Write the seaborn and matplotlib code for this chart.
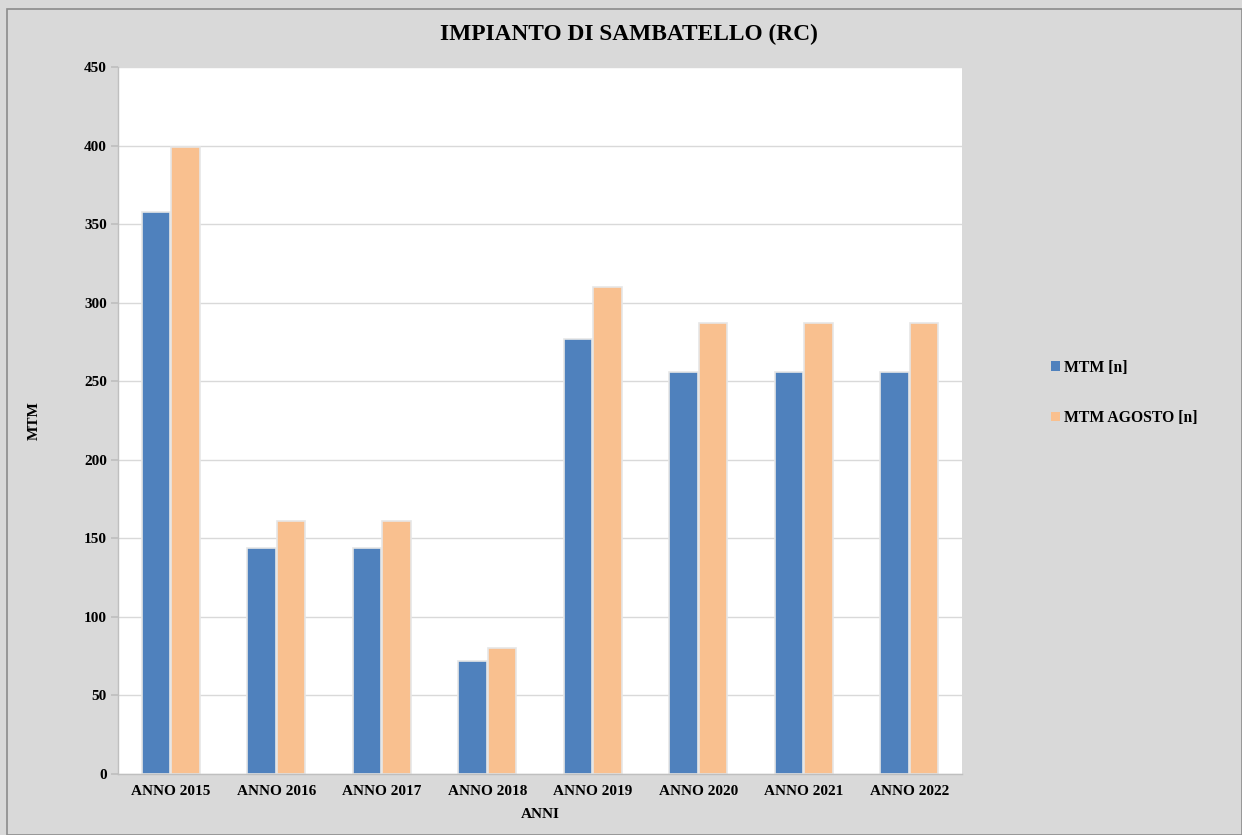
import matplotlib
matplotlib.use("Agg")
import matplotlib.pyplot as plt
import seaborn as sns
import pandas as pd
from matplotlib.patches import Rectangle, Patch

categories = ["ANNO 2015", "ANNO 2016", "ANNO 2017", "ANNO 2018",
              "ANNO 2019", "ANNO 2020", "ANNO 2021", "ANNO 2022"]
mtm = [358, 144, 144, 72, 277, 256, 256, 256]
mtm_agosto = [399, 161, 161, 80, 310, 287, 287, 287]
series_names = ["MTM [n]", "MTM AGOSTO [n]"]
colors = ["#4f81bd", "#f9c08f"]

df = pd.DataFrame({
    "cat": categories * 2,
    "val": mtm + mtm_agosto,
    "serie": [series_names[0]] * len(categories) + [series_names[1]] * len(categories),
})

sns.set_theme(style="white")
plt.rcParams["font.family"] = ["Liberation Serif", "DejaVu Serif"]
plt.rcParams["font.weight"] = "bold"
plt.rcParams["text.color"] = "black"
plt.rcParams["xtick.color"] = "black"
plt.rcParams["ytick.color"] = "black"
plt.rcParams["axes.labelcolor"] = "black"

fig = plt.figure(figsize=(12.42, 8.35), dpi=100, facecolor="#d9d9d9")
ax = fig.add_axes([118/1242, 1-774/835, (962-118)/1242, (774-67)/835])
ax.set_facecolor("white")

sns.barplot(data=df, x="cat", y="val", hue="serie", palette=colors,
            width=0.56, gap=0.03, ax=ax, legend=False, saturation=1,
            edgecolor="#e6e6e6", linewidth=1.2)

ax.set_ylim(0, 450)
ax.set_xlim(-0.5, 7.5)
ax.set_yticks(range(0, 451, 50))
ax.yaxis.grid(True, color="#d9d9d9", linewidth=1)
ax.set_axisbelow(True)
for s in ["top", "right"]:
    ax.spines[s].set_visible(False)
for s in ["left", "bottom"]:
    ax.spines[s].set_color("#bfbfbf")
    ax.spines[s].set_linewidth(1)
ax.tick_params(axis="y", length=5, color="#bfbfbf", labelcolor="black",
               labelsize=11, pad=3, left=True)
ax.tick_params(axis="x", length=0, labelsize=11, pad=8, labelcolor="black")
for lbl in ax.get_xticklabels() + ax.get_yticklabels():
    lbl.set_fontweight("bold")

ax.set_xlabel("ANNI", fontsize=11, fontweight="bold", labelpad=7, color="black")
ax.set_ylabel("MTM", fontsize=11, fontweight="bold", labelpad=31, color="black")
fig.text(629/1242, 1 - 34/835, "IMPIANTO DI SAMBATELLO (RC)",
         ha="center", va="center", fontsize=16.8, fontweight="bold", color="black")

handles = [Patch(facecolor=c, edgecolor="none") for c in colors]
leg = fig.legend(handles, series_names, loc="center left",
                 bbox_to_anchor=(1037/1242, 1 - 393/835), frameon=False,
                 handlelength=0.55, handleheight=0.55, handletextpad=0.25,
                 labelspacing=2.2, prop={"weight": "bold", "size": 11.3})
for t in leg.get_texts():
    t.set_color("black")

fig.patches.append(Rectangle((7/1242, 0), 1 - 7/1242, 1 - 9/835,
                             transform=fig.transFigure, fill=False,
                             edgecolor="#8c8c8c", linewidth=1.2))

fig.savefig("out.png", dpi=100, facecolor=fig.get_facecolor())
